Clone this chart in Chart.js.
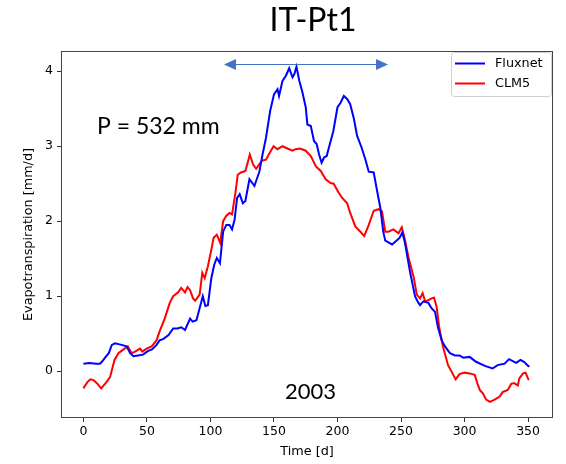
<!DOCTYPE html>
<html>
<head>
<meta charset="utf-8">
<script src="https://cdn.jsdelivr.net/npm/chart.js@4"></script>
<style>
  html, body { margin: 0; padding: 0; background: #fff; }
  #wrap { width: 566px; height: 464px; }
</style>
</head>
<body>
<div id="wrap"><canvas id="c" width="566" height="464"></canvas></div>
<script>
// Fluxnet (osservato), giorno / ET [mm/d]
var fluxDays = [0, 5, 10, 13, 14.6, 18, 20, 22.4, 25, 30, 34, 36.8, 39.4, 43, 47, 51, 54, 57.6, 60, 63, 67, 70.7, 74, 77, 80, 84, 86, 89, 91.5, 94, 96, 98, 100.7, 103, 105, 107.5, 110, 112.5, 115, 117, 119, 121, 123, 125.5, 127.5, 130.7, 134.6, 138.5, 141, 143.7, 147, 150, 152.8, 154, 156.7, 159.4, 162, 164.6, 166, 167.7, 170, 172.4, 175, 176.3, 179, 181.5, 183.6, 185.5, 187.5, 189.4, 191.5, 194, 196.7, 200, 202.4, 205, 207.6, 210, 213, 215.4, 219, 222, 224.6, 228.5, 231, 233.7, 236, 237.6, 243, 247, 249, 251, 253, 257, 261, 263.7, 265, 267.6, 271.5, 274, 276.8, 279, 282, 284.6, 288.5, 292.4, 296, 299, 304, 309, 316, 322, 326, 331.5, 335, 340.6, 344, 347, 350, 351];
var fluxET = [0.10, 0.11, 0.10, 0.10, 0.125, 0.20, 0.24, 0.35, 0.37, 0.35, 0.33, 0.24, 0.20, 0.21, 0.22, 0.27, 0.29, 0.35, 0.41, 0.43, 0.48, 0.57, 0.57, 0.585, 0.55, 0.70, 0.66, 0.68, 0.84, 1.0, 0.87, 0.88, 1.24, 1.42, 1.51, 1.44, 1.86, 1.95, 1.95, 1.89, 2.02, 2.31, 2.36, 2.24, 2.27, 2.56, 2.47, 2.66, 2.89, 3.11, 3.47, 3.69, 3.76, 3.67, 3.87, 3.94, 4.04, 3.92, 3.96, 4.06, 3.87, 3.72, 3.52, 3.29, 3.27, 3.07, 3.03, 2.89, 2.78, 2.85, 2.87, 3.03, 3.20, 3.52, 3.58, 3.67, 3.63, 3.56, 3.36, 3.14, 2.98, 2.82, 2.66, 2.65, 2.42, 2.18, 1.86, 1.74, 1.69, 1.75, 1.78, 1.85, 1.72, 1.33, 1.0, 0.91, 0.88, 0.93, 0.91, 0.84, 0.79, 0.59, 0.41, 0.33, 0.24, 0.21, 0.21, 0.18, 0.19, 0.125, 0.07, 0.035, 0.08, 0.10, 0.16, 0.11, 0.15, 0.12, 0.07, 0.06];

// CLM5 (modello)
var clmDays = [0, 3, 5.5, 8, 10.7, 14, 18.5, 21, 24.5, 27.6, 31.6, 35, 38, 40.7, 44.6, 46.4, 49.8, 53.7, 57.6, 60, 64, 68, 70.7, 74.6, 77, 80, 82, 84, 86.3, 88, 91.5, 93.6, 95.5, 98, 100.7, 102.5, 105, 107.7, 110, 112.4, 115, 117, 119.7, 121.5, 124, 127.5, 129, 131, 133.5, 136, 138.5, 141, 143.7, 147.6, 149.7, 152.8, 156.7, 160.6, 164.6, 167, 170.6, 175, 179, 183, 186.8, 190.7, 194.6, 197, 200.6, 203.7, 207.6, 210, 214, 218, 221, 224.6, 228.5, 232.4, 235, 237.6, 240, 244, 248, 250.6, 252.7, 256, 260, 262.4, 265, 267, 269, 272, 274, 276, 278, 280, 283, 287, 290.5, 293, 296, 300, 304, 308, 310, 312, 314.5, 317, 320, 323.7, 327.6, 330, 334, 336.7, 339, 342, 343, 346, 348, 350.5];
var clmET = [-0.23, -0.15, -0.11, -0.12, -0.16, -0.23, -0.14, -0.08, 0.15, 0.24, 0.29, 0.33, 0.24, 0.26, 0.30, 0.26, 0.30, 0.33, 0.41, 0.53, 0.70, 0.91, 1.0, 1.05, 1.11, 1.05, 1.12, 1.08, 0.97, 0.94, 1.02, 1.31, 1.24, 1.40, 1.62, 1.78, 1.82, 1.71, 2.0, 2.07, 2.11, 2.09, 2.38, 2.62, 2.65, 2.67, 2.76, 2.89, 2.76, 2.70, 2.76, 2.81, 2.82, 2.94, 3.0, 2.96, 3.0, 2.97, 2.94, 2.96, 2.97, 2.94, 2.87, 2.73, 2.67, 2.56, 2.51, 2.50, 2.39, 2.31, 2.24, 2.11, 1.93, 1.86, 1.80, 1.95, 2.14, 2.16, 2.13, 1.86, 1.86, 1.89, 1.84, 1.92, 1.78, 1.51, 1.25, 1.02, 0.97, 1.04, 0.93, 0.95, 0.97, 0.98, 0.86, 0.59, 0.33, 0.08, -0.03, -0.11, -0.04, -0.02, -0.03, -0.05, -0.16, -0.25, -0.30, -0.38, -0.41, -0.38, -0.34, -0.28, -0.25, -0.17, -0.16, -0.19, -0.10, -0.03, -0.02, -0.12];

var xTicks = [0, 50, 100, 150, 200, 250, 300, 350];
var yTicks = [0, 1, 2, 3, 4];

function toPoints(xs, ys) {
  return xs.map(function(x, i) { return {x: x, y: ys[i]}; });
}

var tickFont = {family: 'DejaVu Sans', size: 12.5};

// testi, frecce, legenda e bordo (stile matplotlib)
var decor = {
  id: 'decor',
  afterDraw: function(chart) {
    var c = chart.ctx, a = chart.chartArea;
    c.save();
    // bordo assi
    c.strokeStyle = '#444';
    c.lineWidth = 1;
    c.strokeRect(a.left + 0.5, a.top + 0.5, a.right - a.left - 1, a.bottom - a.top - 1);

    c.fillStyle = '#000';
    c.textAlign = 'center';
    c.textBaseline = 'middle';
    c.font = '12.8px "DejaVu Sans"';
    c.fillText('Time [d]', (a.left + a.right) / 2, 452);
    c.save();
    c.translate(29, (a.top + a.bottom) / 2);
    c.rotate(-Math.PI / 2);
    c.fillText('Evapotranspiration [mm/d]', 0, 0);
    c.restore();

    c.textBaseline = 'alphabetic';
    c.font = '32px Lato';
    c.fillText('IT-Pt1', 313, 31);
    c.textAlign = 'left';
    c.font = '23px Lato';
    c.fillText('P = 532 mm', 97, 134);
    c.font = '22px Lato';
    c.fillText('2003', 285, 399);

    // freccia periodo
    var y = 64.5, x1 = 224, x2 = 388;
    c.strokeStyle = '#4472c4';
    c.fillStyle = '#4472c4';
    c.lineWidth = 1.2;
    c.beginPath(); c.moveTo(x1 + 8, y); c.lineTo(x2 - 8, y); c.stroke();
    c.beginPath(); c.moveTo(x1, y); c.lineTo(x1 + 12, y - 5.5); c.lineTo(x1 + 12, y + 5.5); c.closePath(); c.fill();
    c.beginPath(); c.moveTo(x2, y); c.lineTo(x2 - 12, y - 5.5); c.lineTo(x2 - 12, y + 5.5); c.closePath(); c.fill();

    // legenda
    var lx = 451.5, ly = 52.5, lw = 100, lh = 44;
    c.strokeStyle = '#d0d0d0';
    c.fillStyle = 'rgba(255,255,255,0.8)';
    c.lineWidth = 1;
    c.beginPath();
    c.roundRect(lx, ly, lw, lh, 3);
    c.fill(); c.stroke();
    var items = [['Fluxnet', '#0000ff', 63.5], ['CLM5', '#ff0000', 83.5]];
    c.font = '12.8px "DejaVu Sans"';
    c.textBaseline = 'middle';
    items.forEach(function(it) {
      c.strokeStyle = it[1];
      c.lineWidth = 2;
      c.beginPath(); c.moveTo(455, it[2]); c.lineTo(485, it[2]); c.stroke();
      c.fillStyle = '#000';
      c.fillText(it[0], 495, it[2]);
    });
    c.restore();
  }
};

var ctx = document.getElementById('c').getContext('2d');
window.etChart = new Chart(ctx, {
  type: 'line',
  data: {
    datasets: [
      {label: 'Fluxnet', data: toPoints(fluxDays, fluxET), borderColor: '#0000ff', borderWidth: 2, pointRadius: 0, fill: false, tension: 0},
      {label: 'CLM5', data: toPoints(clmDays, clmET), borderColor: '#ff0000', borderWidth: 2, pointRadius: 0, fill: false, tension: 0}
    ]
  },
  options: {
    responsive: false,
    animation: false,
    layout: {padding: {top: 51, right: 13, left: 0, bottom: 0}},
    plugins: {legend: {display: false}, tooltip: {enabled: false}},
    scales: {
      x: {
        type: 'linear',
        min: -17.6, max: 369.6,
        afterBuildTicks: function(s) { s.ticks = xTicks.map(function(v) { return {value: v}; }); },
        afterFit: function(s) { s.height = 46; },
        ticks: {font: tickFont, color: '#000', padding: 2, maxRotation: 0},
        grid: {drawOnChartArea: false, drawTicks: true, tickLength: 4, color: '#333'},
        border: {display: false}
      },
      y: {
        min: -0.625, max: 4.27,
        afterBuildTicks: function(s) { s.ticks = yTicks.map(function(v) { return {value: v}; }); },
        afterFit: function(s) { s.width = 61; },
        ticks: {font: tickFont, color: '#000', padding: 4},
        grid: {drawOnChartArea: false, drawTicks: true, tickLength: 4, color: '#333'},
        border: {display: false}
      }
    }
  },
  plugins: [decor]
});
</script>
</body>
</html>
